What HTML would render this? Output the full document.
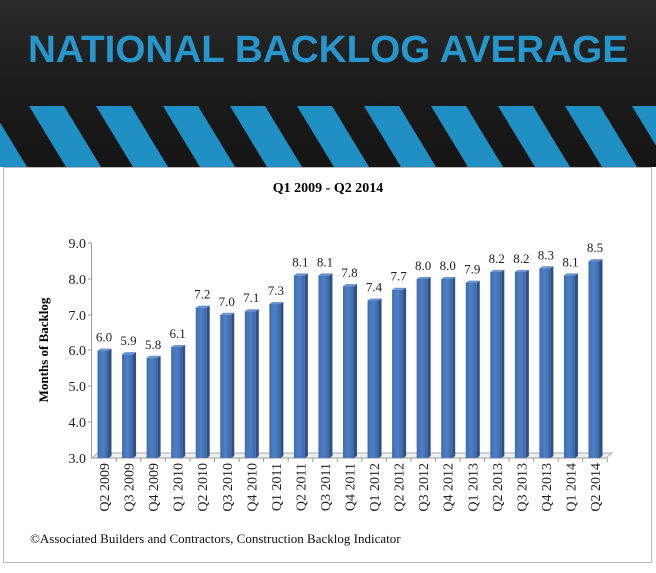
<!DOCTYPE html>
<html><head><meta charset="utf-8"><style>
body{margin:0;width:656px;height:568px;overflow:hidden;background:#fff}
</style></head><body>
<svg width="656" height="568" xmlns="http://www.w3.org/2000/svg" font-family="Liberation Serif, serif">
<defs>
<linearGradient id="hdr" x1="0" y1="0" x2="0" y2="1">
<stop offset="0" stop-color="#2a2a2a"/><stop offset="0.5" stop-color="#1c1c1c"/><stop offset="1" stop-color="#151515"/>
</linearGradient>
<linearGradient id="bar" x1="0" y1="0" x2="1" y2="0">
<stop offset="0" stop-color="#3f6db0"/><stop offset="0.5" stop-color="#4f7fc4"/><stop offset="1" stop-color="#3a66a8"/>
</linearGradient>
<clipPath id="sc"><rect x="0" y="106" width="656" height="61"/></clipPath>
</defs>
<rect x="0" y="0" width="656" height="167" fill="url(#hdr)"/>
<g clip-path="url(#sc)" fill="#1f8fc4">
<polygon points="-38,106 -10,106 27,167 -1,167"/>
<polygon points="29,106 64,106 101,167 66,167"/>
<polygon points="96,106 131,106 168,167 133,167"/>
<polygon points="163,106 198,106 235,167 200,167"/>
<polygon points="230,106 265,106 302,167 267,167"/>
<polygon points="297,106 332,106 369,167 334,167"/>
<polygon points="364,106 399,106 436,167 401,167"/>
<polygon points="431,106 466,106 503,167 468,167"/>
<polygon points="498,106 533,106 570,167 535,167"/>
<polygon points="565,106 600,106 637,167 602,167"/>
<polygon points="632,106 667,106 704,167 669,167"/>
</g>
<text x="328" y="62" text-anchor="middle" font-family="Liberation Sans, sans-serif" font-weight="bold" font-size="38" fill="#2696cc" textLength="600" lengthAdjust="spacingAndGlyphs">NATIONAL BACKLOG AVERAGE</text>
<rect x="3.5" y="167.5" width="648" height="395" fill="#fff" stroke="#bbb"/>
<text x="328" y="192" text-anchor="middle" font-weight="bold" font-size="14">Q1 2009 - Q2 2014</text>
<text transform="translate(48,350) rotate(-90)" text-anchor="middle" font-weight="bold" font-size="13">Months  of Backlog</text>
<g font-size="14" text-anchor="end" fill="#222">
<text x="86" y="248">9.0</text><text x="86" y="284">8.0</text><text x="86" y="320">7.0</text>
<text x="86" y="355">6.0</text><text x="86" y="391">5.0</text><text x="86" y="427">4.0</text><text x="86" y="463">3.0</text>
</g>
<line x1="91.5" y1="243" x2="91.5" y2="458" stroke="#999"/>
<g stroke="#999"><line x1="88" y1="243" x2="92" y2="243"/><line x1="88" y1="279" x2="92" y2="279"/><line x1="88" y1="315" x2="92" y2="315"/><line x1="88" y1="350" x2="92" y2="350"/><line x1="88" y1="386" x2="92" y2="386"/><line x1="88" y1="422" x2="92" y2="422"/></g>
<polygon points="92,458 98,453 612,453 606,458" fill="#eee" stroke="#aaa"/>
<line x1="92" y1="458" x2="606" y2="458" stroke="#999"/>
<g id="bars"></g>
</svg>
<script>
var v=[6.0,5.9,5.8,6.1,7.2,7.0,7.1,7.3,8.1,8.1,7.8,7.4,7.7,8.0,8.0,7.9,8.2,8.2,8.3,8.1,8.5];
var l=["Q2 2009","Q3 2009","Q4 2009","Q1 2010","Q2 2010","Q3 2010","Q4 2010","Q1 2011","Q2 2011","Q3 2011","Q4 2011","Q1 2012","Q2 2012","Q3 2012","Q4 2012","Q1 2013","Q2 2013","Q3 2013","Q4 2013","Q1 2014","Q2 2014"];
var s="";
for(var i=0;i<21;i++){var c=104+i*24.55,y=458-(v[i]-3)*35.8;
s+='<rect x="'+(c-6.5)+'" y="'+y+'" width="11" height="'+(458-y)+'" fill="url(#bar)"/>';
s+='<polygon points="'+(c+4.5)+','+y+' '+(c+7.5)+','+(y-2)+' '+(c+7.5)+',456 '+(c+4.5)+',458" fill="#2c4f85"/>';
s+='<polygon points="'+(c-6.5)+','+y+' '+(c-3.5)+','+(y-2)+' '+(c+7.5)+','+(y-2)+' '+(c+4.5)+','+y+'" fill="#6b93cf"/>';
s+='<text x="'+c+'" y="'+(y-9)+'" text-anchor="middle" font-size="13" fill="#222">'+v[i].toFixed(1)+'</text>';
s+='<line x1="'+(c+12.3)+'" y1="458" x2="'+(c+12.3)+'" y2="462" stroke="#999"/>';
s+='<text transform="translate('+(c+5)+',463) rotate(-90)" text-anchor="end" font-size="14" fill="#222">'+l[i]+'</text>';}
s+='<text x="30" y="543" font-size="13" fill="#111">©Associated Builders and Contractors, Construction Backlog  Indicator</text>';
document.getElementById("bars").innerHTML=s;
</script>
</body></html>
